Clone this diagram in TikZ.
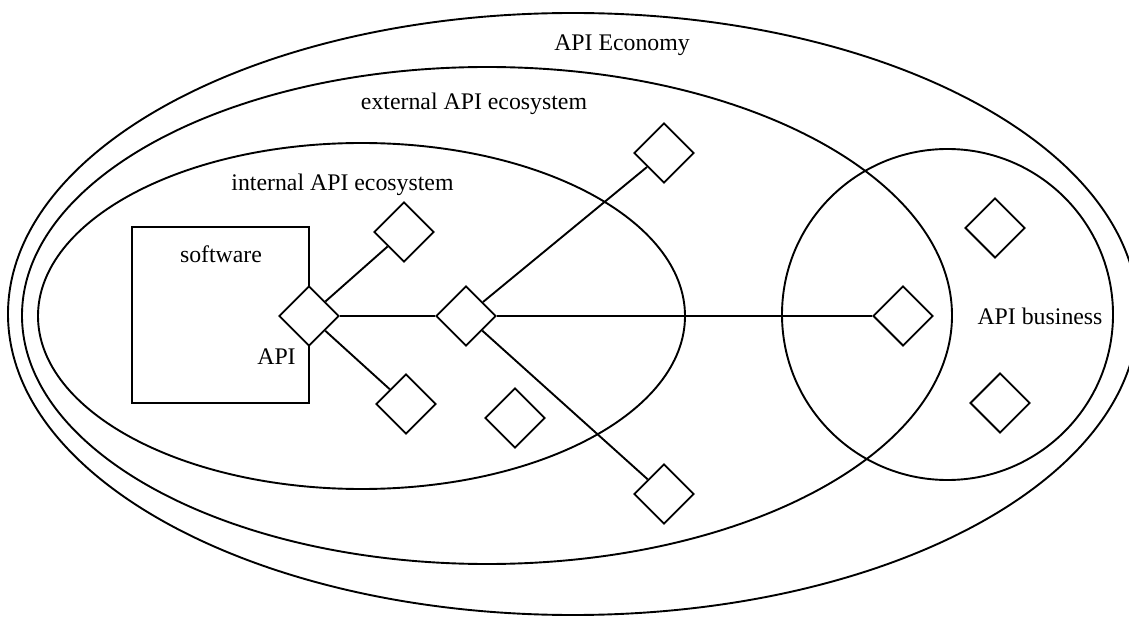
\documentclass[tikz,border=0pt]{standalone}
\usepackage{fontspec}
\setmainfont{Liberation Serif}
\usetikzlibrary{shapes.geometric}
\begin{document}
\begin{tikzpicture}[x=1pt,y=-1pt,
  line width=1.9pt,
  apidia/.style={draw, fill=white, shape=diamond, inner sep=0pt, minimum width=60pt, minimum height=60pt},
  region/.style={draw, inner sep=0pt},
  lbl/.style={anchor=base, inner sep=0pt, font=\fontsize{23.8pt}{28pt}\selectfont}]
\useasboundingbox (0,0) rectangle (1129,617);
\fill[white] (0,0) rectangle (1129,617);
\clip (0,0) rectangle (1129,617);
% regions
\node[region, ellipse, minimum width=1130pt, minimum height=602pt] (economy) at (573,314) {};
\node[region, ellipse, minimum width=930pt, minimum height=497pt] (external) at (487,315.5) {};
\node[region, ellipse, minimum width=647pt, minimum height=346pt] (internal) at (361.5,316) {};
\node[region, circle, minimum size=331pt] (business) at (947.5,314.5) {};
\node[region, rectangle, minimum width=177pt, minimum height=176pt] (software) at (220.5,315) {};
% diamonds
\node[apidia] (api) at (309,316) {};
\node[apidia] (d1) at (404,232) {};
\node[apidia] (d2) at (406,404) {};
\node[apidia] (hub) at (466,316) {};
\node[apidia] (d3) at (515,418) {};
\node[apidia] (e1) at (664,153) {};
\node[apidia] (e2) at (664,494) {};
\node[apidia] (b0) at (903,316) {};
\node[apidia] (b1) at (995,228) {};
\node[apidia] (b2) at (1000,403) {};
% connectors
\draw (api) -- (d1);
\draw (api) -- (d2);
\draw (api) -- (hub);
\draw (hub) -- (e1);
\draw (hub) -- (e2);
\draw (hub) -- (b0);
% labels
\node[lbl] (leco) at (622,51) {API Economy};
\node[lbl] (lext) at (474,110) {external API ecosystem};
\node[lbl] (lint) at (342.5,191) {internal API ecosystem};
\node[lbl] (lsw) at (221,263) {software};
\node[lbl] (lapi) at (276.5,364) {API};
\node[lbl] (lbus) at (1040,325) {API business};
\end{tikzpicture}
\end{document}
